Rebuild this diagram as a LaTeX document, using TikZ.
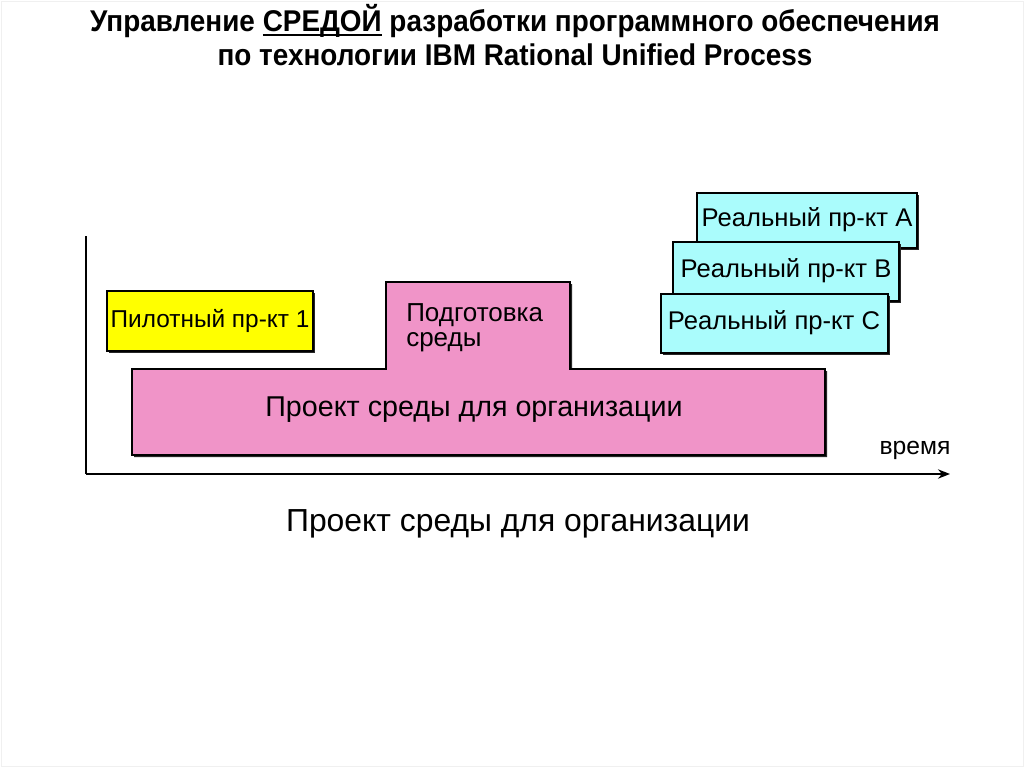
\documentclass[tikz,border=0pt]{standalone}
\usepackage{fontspec}
\setmainfont{Liberation Sans}
\newfontfamily\titlefont[FakeStretch=0.93]{Liberation Sans}
\usepackage{tikz}
\usetikzlibrary{arrows.meta}

\definecolor{pinkfill}{RGB}{240,148,200}
\definecolor{cyanfill}{RGB}{170,252,252}
\definecolor{yellowfill}{RGB}{255,255,0}

\newcommand\ulword[1]{\setbox0\hbox{#1}\rlap{\raisebox{-3.6pt}{\rule{\wd0}{1.3pt}}}\box0\relax}

\tikzset{
  boxline/.style={draw=black,line width=0.9pt},
  shadowfill/.style={fill=black!85},
  boxtext/.style={inner sep=0.75pt,font=\fontsize{18.3}{21}\selectfont},
}

\begin{document}
\begin{tikzpicture}[x=0.75pt,y=0.75pt,yscale=-1,xscale=1]
\useasboundingbox (0,0) rectangle (1024,767);
\draw[color=black!6] (1,1) rectangle (1023,766);

% Text Node
\node[font=\titlefont\bfseries\fontsize{22.5}{26}\selectfont,align=center] (title) at (515,35)
  {Управление \ulword{СРЕДОЙ} разработки программного обеспечения\\
   по технологии IBM Rational Unified Process};

%Straight Lines: axes
\coordinate (ytop) at (86,236);
\coordinate (origin) at (86,474);
\coordinate (xend) at (950,474);
\draw[line width=1.3pt] (ytop) -- (origin);
\draw[line width=1.3pt,-{Stealth[length=9pt,width=7pt]}] (origin) -- (xend);

% Text Node
\node[boxtext,font=\fontsize{18.5}{21}\selectfont] (time) at (915,450) {время};

%Shape: Pilot box
\fill[shadowfill] (109,293) rectangle (315,353);
\draw[boxline,fill=yellowfill] (107,291) rectangle (313,351);
\node[boxtext] (pilot) at (210,321) {Пилотный пр-кт 1};

%Shape: Environment box
\fill[shadowfill,shift={(2,2)}] (132,369) -- (386,369) -- (386,282) -- (570,282) -- (570,369) -- (825,369) -- (825,455) -- (132,455) -- cycle;
\draw[boxline,fill=pinkfill] (132,369) -- (386,369) -- (386,282) -- (570,282) -- (570,369) -- (825,369) -- (825,455) -- (132,455) -- cycle;
\node[boxtext,align=left,anchor=west,font=\fontsize{19.5}{19}\selectfont] (prep) at (405,328) {Подготовка\\среды};
\node[boxtext,font=\fontsize{21.5}{25}\selectfont] (project) at (474,410) {Проект среды для организации};

%Shape: Real projects
\fill[shadowfill] (699,195) rectangle (919,250);
\draw[boxline,fill=cyanfill] (697,193) rectangle (917,248);
\node[boxtext,font=\fontsize{19.2}{23}\selectfont] (realA) at (807,220) {Реальный пр-кт А};

\fill[shadowfill] (675,244) rectangle (901,303);
\draw[boxline,fill=cyanfill] (673,242) rectangle (899,301);
\node[boxtext,font=\fontsize{19.2}{23}\selectfont] (realB) at (786,271) {Реальный пр-кт В};

\fill[shadowfill] (663,296) rectangle (890,355);
\draw[boxline,fill=cyanfill] (661,294) rectangle (888,353);
\node[boxtext,font=\fontsize{19.2}{23}\selectfont] (realC) at (774,323) {Реальный пр-кт С};

% Text Node
\node[font=\fontsize{23.9}{28}\selectfont] (caption) at (518,524) {Проект среды для организации};

\end{tikzpicture}
\end{document}
